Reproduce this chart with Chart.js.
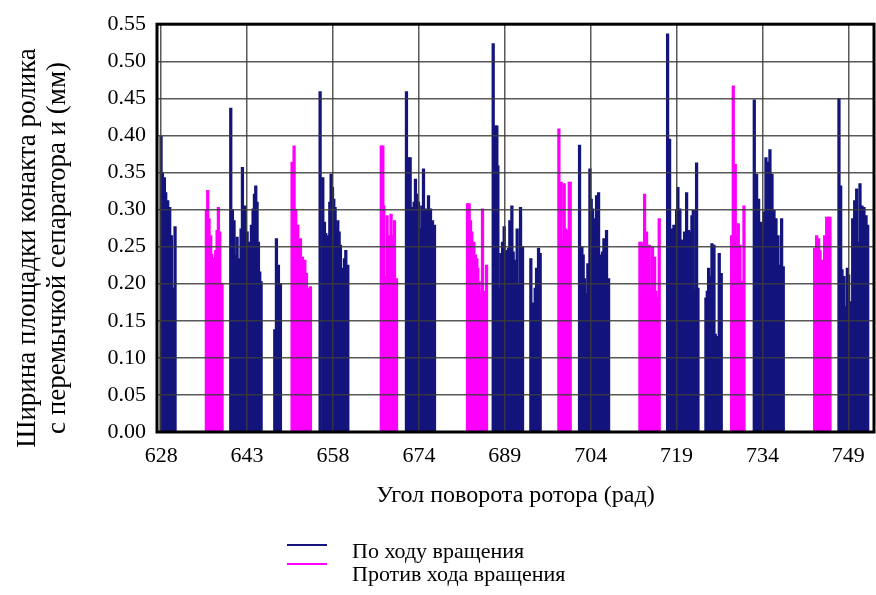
<!DOCTYPE html>
<html>
<head>
<meta charset="utf-8">
<script src="https://cdn.jsdelivr.net/npm/chart.js@4.4.1/dist/chart.umd.min.js"></script>
<style>
	html, body { margin: 0; padding: 0; background: #fff; }
	#wrap { width: 876px; height: 595px; }
</style>
</head>
<body>
<div id="wrap"><canvas id="contactChart" width="876" height="595"></canvas></div>
<script>
// По ходу вращения (navy spikes), angle in rad / width in mm
const forwardX = [
	628.29, 628.52, 628.88, 629.11, 629.46, 629.81, 630.11, 630.28, 630.52, 630.75,
	640.53, 640.82, 641.11, 641.35, 641.64, 641.87, 642.05, 642.34, 642.58, 642.75, 643.04, 643.22, 643.40, 643.63, 643.87, 644.16, 644.45, 644.69, 644.92, 645.15, 645.39, 645.62, 645.86,
	648.26, 648.55, 648.90, 649.25,
	656.22, 656.69, 656.98, 657.21, 657.57, 657.92, 658.15, 658.39, 658.62, 658.85, 659.09, 659.32, 659.56, 659.79, 660.03, 660.26, 660.49, 660.73, 661.08,
	671.38, 671.74, 672.03, 672.20, 672.44, 672.73, 672.96, 673.14, 673.49, 673.78, 674.08, 674.37, 674.66, 674.90, 675.25, 675.60, 675.95, 676.30,
	686.61, 687.02, 687.25, 687.43, 687.72, 687.95, 688.25, 688.54, 688.83, 689.07, 689.30, 689.53, 689.89, 690.12, 690.35, 690.59, 690.82, 691.06, 691.41, 691.76,
	693.22, 693.52, 693.75, 693.98, 694.22, 694.57, 694.86,
	701.77, 702.18, 702.41, 702.65, 703.00, 703.23, 703.59, 703.82, 704.06, 704.29, 704.52, 704.76, 705.11, 705.34, 705.58, 705.81, 706.05, 706.28, 706.51, 706.87,
	717.23, 717.58, 717.93, 718.34, 718.57, 718.81, 719.04, 719.39, 719.63, 719.86, 720.21, 720.57, 720.92, 721.15, 721.50, 721.74, 721.97, 722.32, 722.56,
	723.96, 724.20, 724.43, 724.66, 725.02, 725.37, 725.60, 725.84, 726.30, 726.65,
	732.45, 732.86, 733.21, 733.56, 733.92, 734.15, 734.50, 734.85, 735.20, 735.56, 735.91, 736.26, 736.61, 736.96, 737.25, 737.54,
	747.32, 747.62, 747.85, 748.20, 748.55, 748.79, 749.02, 749.37, 749.73, 750.08, 750.43, 750.78, 751.01, 751.36, 751.71, 752.07, 752.36
];
const forwardY = [
	0.399, 0.350, 0.343, 0.323, 0.312, 0.303, 0.265, 0.194, 0.194, 0.277,
	0.437, 0.300, 0.285, 0.239, 0.263, 0.203, 0.234, 0.274, 0.357, 0.263, 0.305, 0.263, 0.270, 0.256, 0.221, 0.279, 0.301, 0.321, 0.332, 0.310, 0.256, 0.216, 0.203,
	0.138, 0.261, 0.225, 0.200,
	0.459, 0.343, 0.283, 0.268, 0.265, 0.310, 0.348, 0.330, 0.314, 0.303, 0.274, 0.285, 0.270, 0.252, 0.221, 0.207, 0.234, 0.245, 0.225,
	0.459, 0.370, 0.370, 0.250, 0.303, 0.310, 0.341, 0.321, 0.310, 0.274, 0.305, 0.355, 0.283, 0.301, 0.319, 0.301, 0.285, 0.279,
	0.524, 0.413, 0.413, 0.359, 0.194, 0.241, 0.256, 0.277, 0.243, 0.245, 0.248, 0.285, 0.305, 0.243, 0.232, 0.225, 0.274, 0.200, 0.303, 0.250,
	0.234, 0.174, 0.174, 0.194, 0.221, 0.248, 0.241,
	0.387, 0.250, 0.239, 0.207, 0.187, 0.227, 0.355, 0.314, 0.301, 0.288, 0.270, 0.319, 0.323, 0.234, 0.239, 0.243, 0.261, 0.210, 0.272, 0.207,
	0.537, 0.395, 0.274, 0.279, 0.259, 0.300, 0.330, 0.301, 0.259, 0.259, 0.270, 0.323, 0.272, 0.270, 0.292, 0.299, 0.192, 0.363, 0.194,
	0.181, 0.190, 0.221, 0.210, 0.254, 0.252, 0.132, 0.129, 0.241, 0.214,
	0.448, 0.348, 0.314, 0.283, 0.277, 0.297, 0.370, 0.364, 0.381, 0.348, 0.299, 0.288, 0.265, 0.225, 0.288, 0.223,
	0.450, 0.332, 0.219, 0.210, 0.169, 0.221, 0.212, 0.176, 0.288, 0.312, 0.328, 0.256, 0.335, 0.305, 0.303, 0.292, 0.279
];

// Против хода вращения (magenta spikes)
const reverseX = [
	636.25, 636.49, 636.72, 637.01, 637.19, 637.42, 637.66, 637.89, 638.13, 638.36, 638.60, 638.83, 639.00,
	651.30, 651.65, 651.94, 652.30, 652.53, 652.77, 653.12, 653.53, 653.82, 654.11, 654.52,
	666.96, 667.23, 667.40, 667.63, 667.98, 668.33, 668.68, 668.93, 669.28, 669.63,
	682.10, 682.39, 682.63, 682.86, 683.21, 683.50, 683.74, 683.91, 684.15, 684.38, 684.73, 685.14, 685.44,
	698.14, 698.55, 698.84, 699.08, 699.37, 699.66, 699.96, 700.13,
	712.37, 712.60, 712.84, 713.19, 713.54, 713.78, 714.01, 714.24, 714.59, 714.95, 715.18, 715.41, 715.76,
	728.47, 728.76, 729.11, 729.35, 729.64, 729.93, 730.17, 730.40, 730.64,
	743.05, 743.40, 743.75, 743.99, 744.22, 744.46, 744.81, 745.16, 745.51, 745.74
];
const reverseY = [
	0.300, 0.326, 0.288, 0.265, 0.240, 0.225, 0.235, 0.245, 0.272, 0.303, 0.270, 0.200, 0.200,
	0.364, 0.386, 0.300, 0.279, 0.259, 0.261, 0.236, 0.232, 0.214, 0.194, 0.196,
	0.386, 0.386, 0.305, 0.210, 0.292, 0.265, 0.294, 0.265, 0.285, 0.207,
	0.308, 0.308, 0.285, 0.270, 0.256, 0.239, 0.234, 0.221, 0.203, 0.187, 0.301, 0.190, 0.225,
	0.409, 0.337, 0.259, 0.335, 0.274, 0.272, 0.337, 0.337,
	0.256, 0.256, 0.252, 0.321, 0.270, 0.236, 0.252, 0.192, 0.250, 0.236, 0.190, 0.181, 0.288,
	0.265, 0.467, 0.361, 0.265, 0.281, 0.252, 0.203, 0.203, 0.305,
	0.248, 0.265, 0.261, 0.245, 0.223, 0.232, 0.265, 0.290, 0.290, 0.290
];

const xTickValues = [628.32, 643.40, 658.48, 673.56, 688.64, 703.72, 718.80, 733.88, 748.96];
const xTickLabels = ['628', '643', '658', '674', '689', '704', '719', '734', '749'];
const yTickValues = [0, 0.05, 0.10, 0.15, 0.20, 0.25, 0.30, 0.35, 0.40, 0.45, 0.50, 0.55];
const xMin = 627.58;
const xMax = 753.47;

const seriesLabels = ['По ходу вращения', 'Против хода вращения'];
const xTitle = 'Угол поворота ротора (рад)';
const yTitleLines = ['Ширина площадки конакта ролика', 'с перемычкой сепаратора и (мм)'];

const navy = 'rgb(20, 20, 125)';
const magenta = 'rgb(255, 0, 255)';
const gridColor = 'rgba(60, 60, 60, 0.85)';
const serif = '"Liberation Serif", "Times New Roman", serif';

const toPoints = (xs, ys) => xs.map((x, i) => ({ x: x, y: ys[i] }));

// frame, rotated y title and the stacked legend
const extrasPlugin = {
	id: 'extras',
	afterDraw(chart) {
		const { ctx, chartArea } = chart;
		ctx.save();
		ctx.strokeStyle = '#000';
		ctx.lineWidth = 3;
		ctx.strokeRect(chartArea.left, chartArea.top, chartArea.right - chartArea.left, chartArea.bottom - chartArea.top);

		ctx.fillStyle = '#000';
		ctx.textAlign = 'center';
		ctx.textBaseline = 'middle';
		ctx.font = '27px ' + serif;
		ctx.save();
		ctx.translate(0, 248);
		ctx.rotate(-Math.PI / 2);
		ctx.fillText(yTitleLines[0], 0, 28);
		ctx.fillText(yTitleLines[1], 0, 58);
		ctx.restore();

		const colors = [navy, magenta];
		const lineY = [545, 564];
		const textY = [558, 581];
		ctx.font = '22px ' + serif;
		ctx.textAlign = 'left';
		ctx.textBaseline = 'alphabetic';
		seriesLabels.forEach((label, i) => {
			ctx.strokeStyle = colors[i];
			ctx.lineWidth = 2;
			ctx.beginPath();
			ctx.moveTo(287, lineY[i]);
			ctx.lineTo(327, lineY[i]);
			ctx.stroke();
			ctx.fillStyle = '#000';
			ctx.fillText(label, 352, textY[i]);
		});
		ctx.restore();
	}
};

const ctx = document.getElementById('contactChart').getContext('2d');
const contactChart = new Chart(ctx, {
	type: 'bar',
	data: {
		datasets: [
			{
				label: seriesLabels[0],
				data: toPoints(forwardX, forwardY),
				backgroundColor: navy,
				barThickness: 2.6,
				grouped: false,
				borderWidth: 0
			},
			{
				label: seriesLabels[1],
				data: toPoints(reverseX, reverseY),
				backgroundColor: magenta,
				barThickness: 2.6,
				grouped: false,
				borderWidth: 0
			}
		]
	},
	options: {
		responsive: false,
		animation: false,
		layout: { padding: { left: 0, top: 21, right: 2, bottom: 0 } },
		scales: {
			x: {
				type: 'linear',
				min: xMin,
				max: xMax,
				offset: false,
				afterBuildTicks: (scale) => {
					scale.ticks = xTickValues.map((v) => ({ value: v }));
				},
				afterFit: (scale) => {
					scale.height = 163;
				},
				grid: { color: gridColor, lineWidth: 1.5, drawTicks: false, offset: false, z: 1 },
				border: { display: false },
				ticks: {
					callback: (value, index) => xTickLabels[index],
					autoSkip: false,
					maxRotation: 0,
					padding: 11,
					color: '#000',
					font: { family: serif, size: 22 }
				},
				title: {
					display: true,
					text: xTitle,
					color: '#000',
					font: { family: serif, size: 24 },
					padding: { top: 0, bottom: 85 }
				}
			},
			y: {
				min: 0,
				max: 0.55,
				afterBuildTicks: (scale) => {
					scale.ticks = yTickValues.map((v) => ({ value: v }));
				},
				afterFit: (scale) => {
					scale.width = 157;
				},
				grid: { color: gridColor, lineWidth: 1.5, drawTicks: false, z: 1 },
				border: { display: false },
				ticks: {
					callback: (value) => Number(value).toFixed(2),
					padding: 11,
					color: '#000',
					font: { family: serif, size: 22 }
				}
			}
		},
		plugins: {
			legend: { display: false },
			tooltip: { enabled: false }
		}
	},
	plugins: [extrasPlugin]
});
</script>
</body>
</html>
